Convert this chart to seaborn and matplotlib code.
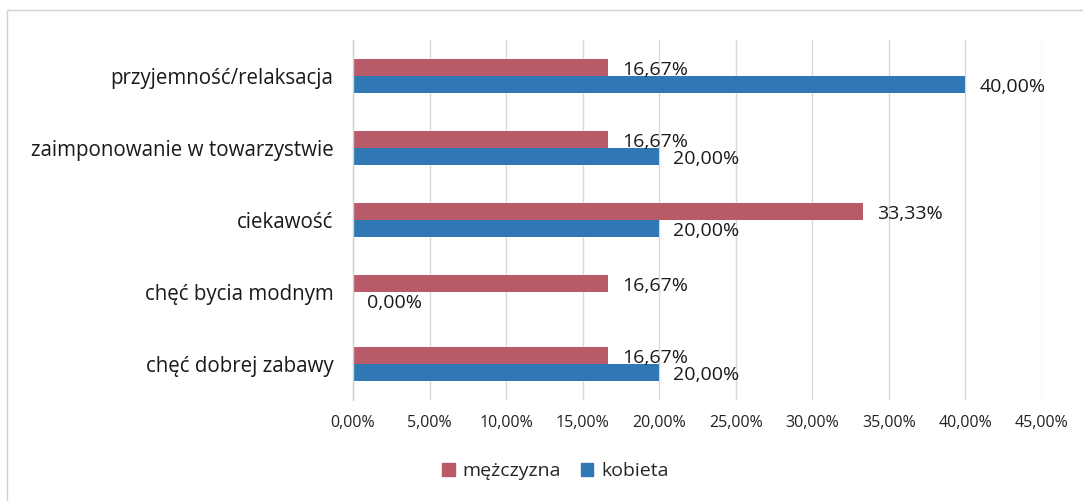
import matplotlib
matplotlib.use("Agg")
import matplotlib.pyplot as plt
import seaborn as sns
import pandas as pd
from matplotlib.ticker import FuncFormatter
from matplotlib.patches import Rectangle

categories = [
    "przyjemność/relaksacja",
    "zaimponowanie w towarzystwie",
    "ciekawość",
    "chęć bycia modnym",
    "chęć dobrej zabawy",
]
series_names = ["mężczyzna", "kobieta"]
men = [16.67, 16.67, 33.33, 16.67, 16.67]
women = [40.00, 20.00, 20.00, 0.00, 20.00]
x_ticks = [0, 5, 10, 15, 20, 25, 30, 35, 40, 45]

colors = {"mężczyzna": "#B95A68", "kobieta": "#3077B5"}

df = pd.DataFrame({
    "kategoria": categories * 2,
    "płeć": [series_names[0]] * len(categories) + [series_names[1]] * len(categories),
    "wartość": men + women,
})

sns.set_theme(style="white")
plt.rcParams["font.family"] = ["Open Sans", "DejaVu Sans"]

fig = plt.figure(figsize=(10.83, 5.01), dpi=100)
ax = fig.add_axes([0.326, 0.2016, 0.636, 0.7186])

sns.barplot(data=df, y="kategoria", x="wartość", hue="płeć", order=categories,
            hue_order=series_names, palette=colors, orient="h", width=0.47,
            saturation=1, linewidth=0, edgecolor="none", ax=ax, legend=False)

ax.set_xlim(0, 45)
ax.set_ylim(len(categories) - 0.5, -0.5)
ax.set_xticks(x_ticks)
ax.xaxis.set_major_formatter(FuncFormatter(lambda v, p: f"{v:.2f}%".replace(".", ",")))
ax.tick_params(axis="x", labelsize=11.5, colors="#222222", length=0, pad=11)
ax.tick_params(axis="y", labelsize=14.8, colors="#1a1a1a", length=0, pad=14)
ax.set_xlabel("")
ax.set_ylabel("")
ax.grid(axis="x", color="#d9d9d9", linewidth=1)
ax.set_axisbelow(True)
for side in ["top", "right", "bottom"]:
    ax.spines[side].set_visible(False)
ax.spines["left"].set_color("#cfcfcf")
ax.spines["left"].set_linewidth(1)

# value labels at the end of each bar
for container, name in zip(ax.containers, series_names):
    for bar in container:
        val = bar.get_width()
        y = bar.get_y() + bar.get_height() / 2
        ax.annotate(f"{val:.2f}%".replace(".", ","), xy=(val, y),
                    xytext=(10, -2), textcoords="offset points",
                    ha="left", va="center", fontsize=14, color="#1a1a1a")

# legend below the plot
handles = [Rectangle((0, 0), 1, 1, color=colors[n]) for n in series_names]
fig.legend(handles, series_names, loc="center", bbox_to_anchor=(0.513, 0.06),
           ncol=2, frameon=False, fontsize=14, handlelength=0.65, handleheight=0.65,
           handletextpad=0.4, columnspacing=1.0)

# chart frame
fig.add_artist(Rectangle((0.0065, -0.02), 1.0, 1.0, transform=fig.transFigure,
                         fill=False, edgecolor="#d0d0d0", linewidth=1))

fig.savefig("out.png", dpi=100, facecolor="white")
